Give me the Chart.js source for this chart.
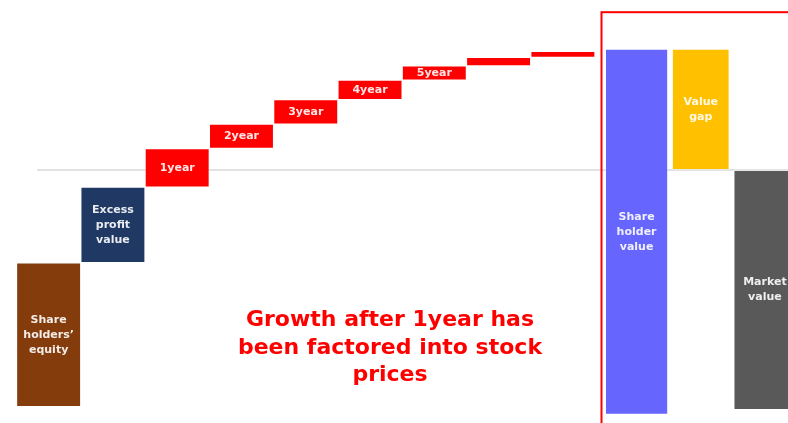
<!DOCTYPE html>
<html>
<head>
  <meta charset="utf-8">
  <title>Value gap</title>
  <script src="https://cdn.jsdelivr.net/npm/chart.js"></script>
  <style>
    body { margin: 0; width: 788px; height: 423px; overflow: hidden; background: #fff; position: relative; font-family: "DejaVu Sans", Verdana, sans-serif; }
    .box { position: absolute; top: 0; height: 423px; }
    #leftBox { left: 0; width: 598px; }
    #rightBox { left: 598px; width: 199px; }
    .note { position: absolute; left: 190px; top: 305px; width: 400px; text-align: center; color: #ff0000; font-weight: bold; font-size: 22px; line-height: 27.5px; }
  </style>
</head>
<body>

  <div class="box" id="leftBox"><canvas id="steps"></canvas></div>
  <div class="box" id="rightBox"><canvas id="compare"></canvas></div>
  <div class="note">Growth after 1year has<br>been factored into stock<br>prices</div>

  <script>
    // waterfall: equity + excess profit + yearly growth steps
    const stepLabels = ['Share holders’ equity', 'Excess profit value', '1year', '2year', '3year', '4year', '5year', '6year', '7year'];
    const stepLow  = [0, 35.4, 54, 63.5, 69.5, 75.5, 80.3, 83.8, 85.9];
    const stepHigh = [35.4, 54, 63.5, 69.5, 75.5, 80.3, 83.8, 85.9, 87.4];
    const stepText = [['Share', 'holders’', 'equity'], ['Excess', 'profit', 'value'], ['1year'], ['2year'], ['3year'], ['4year'], ['5year'], [], []];

    // comparison inside the red frame
    const compareLabels = ['Share holder value', 'Value gap', 'Market value'];
    const compareLow  = [-2, 58.2, -0.8];
    const compareHigh = [88, 88, 58.2];
    const compareText = [['Share', 'holder', 'value'], ['Value', 'gap'], ['Market', 'value']];

    const marketLevel = 58.2;

    const stepColors = ['#843c0c', '#203864', '#ff0000', '#ff0000', '#ff0000', '#ff0000', '#ff0000', '#ff0000', '#ff0000'];
    const compareColors = ['#6666ff', '#ffc000', '#595959'];
    const compareWidths = [0.985, 0.9, 0.98];

    const FONT = '"DejaVu Sans", Verdana, sans-serif';

    function refLine(startOffset) {
      return {
        id: 'refLine',
        beforeDatasetsDraw(chart) {
          const ctx = chart.ctx;
          const y = chart.scales.y.getPixelForValue(marketLevel);
          const x0 = startOffset === null ? 0 : chart.scales.x.getPixelForValue(0) + startOffset;
          ctx.save();
          ctx.strokeStyle = '#d9d9d9';
          ctx.lineWidth = 1.5;
          ctx.beginPath();
          ctx.moveTo(x0, y);
          ctx.lineTo(chart.width, y);
          ctx.stroke();
          ctx.restore();
        }
      };
    }

    const barText = {
      id: 'barText',
      afterDatasetsDraw(chart) {
        const ctx = chart.ctx;
        ctx.save();
        ctx.font = 'bold 11px ' + FONT;
        ctx.textAlign = 'center';
        ctx.textBaseline = 'middle';
        ctx.fillStyle = 'rgba(255,255,255,0.9)';
        chart.data.datasets.forEach((ds, di) => {
          chart.getDatasetMeta(di).data.forEach((el, i) => {
            const lines = ds.text && ds.text[i];
            if (!lines || !lines.length || ds.data[i] === null) return;
            const cy = (el.y + el.base) / 2;
            lines.forEach((t, k) => {
              ctx.fillText(t, el.x, cy + (k - (lines.length - 1) / 2) * 15);
            });
          });
        });
        ctx.restore();
      }
    };

    const redFrame = {
      id: 'redFrame',
      afterDraw(chart) {
        const ctx = chart.ctx;
        const top = chart.scales.y.getPixelForValue(97);
        ctx.save();
        ctx.strokeStyle = '#ff0000';
        ctx.lineWidth = 2;
        ctx.strokeRect(chart.chartArea.left - 3, top, 400, 500);
        ctx.restore();
      }
    };

    const common = {
      responsive: true,
      maintainAspectRatio: false,
      animation: false,
      plugins: { legend: { display: false }, tooltip: { enabled: false } },
      scales: {
        x: { display: false },
        y: { display: false, min: -4, max: 100 }
      }
    };

    new Chart(document.getElementById('steps'), {
      type: 'bar',
      data: {
        labels: stepLabels,
        datasets: [{
          data: stepLabels.map((_, i) => [stepLow[i], stepHigh[i]]),
          text: stepText,
          backgroundColor: stepColors,
          borderColor: 'rgba(255,255,255,0.2)',
          borderWidth: 1,
          borderSkipped: false,
          barPercentage: 1,
          categoryPercentage: 1
        }]
      },
      options: Object.assign({}, common, {
        layout: { padding: { left: 16.5, right: 3, top: 0, bottom: 0 } }
      }),
      plugins: [refLine(-11.5), barText]
    });

    new Chart(document.getElementById('compare'), {
      type: 'bar',
      data: {
        labels: compareLabels,
        datasets: compareLabels.map((_, i) => ({
          data: compareLabels.map((_, j) => j === i ? [compareLow[i], compareHigh[i]] : null),
          text: compareLabels.map((_, j) => j === i ? compareText[i] : []),
          backgroundColor: compareColors[i],
          borderColor: 'rgba(255,255,255,0.2)',
          borderWidth: 1,
          borderSkipped: false,
          grouped: false,
          barPercentage: compareWidths[i],
          categoryPercentage: 1
        }))
      },
      options: Object.assign({}, common, {
        layout: { padding: { left: 6.5, right: 0, top: 0, bottom: 0 } }
      }),
      plugins: [refLine(null), barText, redFrame]
    });
  </script>

</body>
</html>
